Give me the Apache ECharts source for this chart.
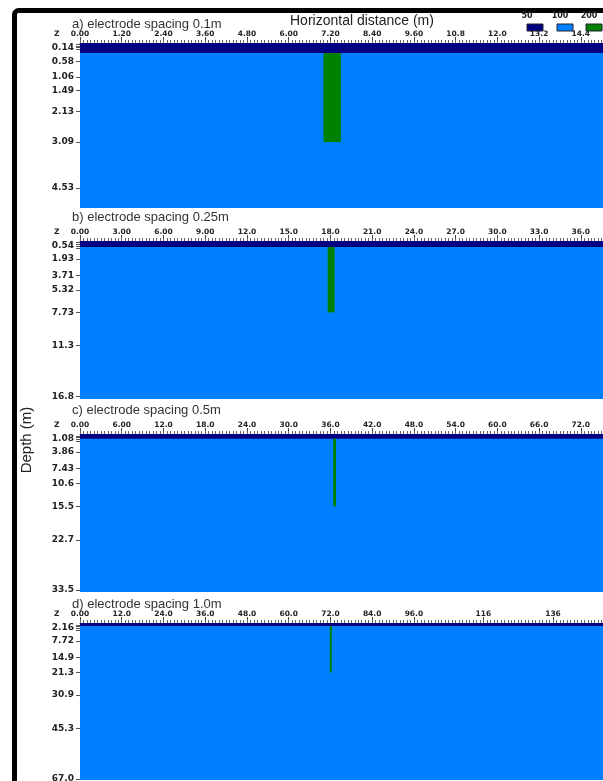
<!DOCTYPE html>
<html><head><meta charset="utf-8">
<script src="https://cdn.jsdelivr.net/npm/echarts@6/dist/echarts.min.js"></script>
<style>html,body{margin:0;padding:0;background:#fff}#c{width:603px;height:781px}</style>
</head><body><div id="c"></div>
<script>
// ---- data ----
const panelTitles = ['a) electrode spacing 0.1m','b) electrode spacing 0.25m','c) electrode spacing 0.5m','d) electrode spacing 1.0m'];
const spacings = [0.1, 0.25, 0.5, 1.0];
const xMax = [15.9, 39.75, 79.5, 159];
const depthMax = [5.15, 17.1, 33.9, 67.5];
const xTicksA = [0,1.2,2.4,3.6,4.8,6.0,7.2,8.4,9.6,10.8,12.0,13.2,14.4];
const xTicksB = [0,3,6,9,12,15,18,21,24,27,30,33,36];
const xTicksC = [0,6,12,18,24,30,36,42,48,54,60,66,72];
const xTicksD = [0,12,24,36,48,60,72,84,96,116,136];
const depthLabelsA = [0.14,0.58,1.06,1.49,2.13,3.09,4.53];
const depthLabelsB = [0.54,1.93,3.71,5.32,7.73,11.3,16.8];
const depthLabelsC = [1.08,3.86,7.43,10.6,15.5,22.7,33.5];
const depthLabelsD = [2.16,7.72,14.9,21.3,30.9,45.3,67.0];
// model cells: [x start, x end, depth top, depth bottom, legend class]
const cellsA = [[0,15.9,0,5.15,1],[0,15.9,0,0.31,0],[7.0,7.5,0.31,3.09,2]];
const cellsB = [[0,39.75,0,17.1,1],[0,39.75,0,0.65,0],[17.8,18.3,0.65,7.73,2]];
const cellsC = [[0,79.5,0,33.9,1],[0,79.5,0,1.0,0],[36.4,36.8,1.0,15.5,2]];
const cellsD = [[0,159,0,67.5,1],[0,159,0,1.3,0],[71.8,72.4,1.3,21.3,2]];
const legendValues = ['50','100','200'];
const legendColors = ['#000080','#0080ff','#008000'];

const xTicks = [xTicksA, xTicksB, xTicksC, xTicksD];
const depthLabels = [depthLabelsA, depthLabelsB, depthLabelsC, depthLabelsD];
const cells = [cellsA, cellsB, cellsC, cellsD];

// ---- layout ----
const gridTop = [43, 241, 434, 623];
const gridH = [165, 158, 158, 157];
const titleY = [26, 219, 412, 606];

function fmtX(v){ v = Math.abs(v) < 1e-9 ? 0 : v; if (v < 10) return v.toFixed(2); if (v < 100) return v.toFixed(1); return v.toFixed(0); }
function fmtY(v){ return v < 10 ? v.toFixed(2) : v.toFixed(1); }

function renderCell(params, api){
  const p0 = api.coord([api.value(0), api.value(2)]);
  const p1 = api.coord([api.value(1), api.value(3)]);
  const cs = params.coordSys;
  const r = echarts.graphic.clipRectByRect(
    {x: Math.min(p0[0],p1[0]), y: Math.min(p0[1],p1[1]), width: Math.abs(p1[0]-p0[0]), height: Math.abs(p1[1]-p0[1])},
    {x: cs.x, y: cs.y, width: cs.width, height: cs.height});
  if (!r) return;
  return {type:'rect', shape:r, style:{fill: legendColors[api.value(4)]}};
}

const labFont = {fontFamily:'DejaVu Sans', fontWeight:'bold', color:'#222'};
const grids = [], xAxes = [], yAxes = [], series = [], graphics = [];
for (let i = 0; i < 4; i++) {
  grids.push({left: 80, width: 553, top: gridTop[i], height: gridH[i], outerBoundsMode: 'none', containLabel: false});
  xAxes.push({
    type:'value', gridIndex:i, position:'top', min:0, max:xMax[i],
    axisLine:{show:true, lineStyle:{color:'#555', width:1}},
    axisTick:{show:true, customValues:xTicks[i], length:6, lineStyle:{color:'#444'}},
    axisLabel:Object.assign({customValues:xTicks[i], formatter:fmtX, fontSize:7.5, margin:5}, labFont),
    splitLine:{show:false}
  });
  xAxes.push({
    type:'value', gridIndex:i, position:'top', min:0, max:xMax[i], interval:spacings[i],
    axisLine:{show:false},
    axisTick:{show:true, length:3, lineStyle:{color:'#666'}},
    axisLabel:{show:false}, splitLine:{show:false}
  });
  const d0 = depthLabels[i][0];
  yAxes.push({
    type:'value', gridIndex:i, inverse:true, min:0, max:depthMax[i],
    axisLine:{show:false},
    axisTick:{show:true, customValues:depthLabels[i].concat([d0*0.35, d0*0.7, d0*1.4]), length:4, lineStyle:{color:'#555'}},
    axisLabel:Object.assign({customValues:depthLabels[i], formatter:fmtY, fontSize:9, margin:6}, labFont),
    splitLine:{show:false}
  });
  series.push({
    type:'custom', xAxisIndex:2*i, yAxisIndex:i, renderItem:renderCell,
    encode:{x:[0,1], y:[2,3]}, data:cells[i], silent:true, animation:false
  });
  graphics.push({type:'text', left:72, top:titleY[i]-8, style:{text:panelTitles[i], fontFamily:'Liberation Sans', fontSize:13, fill:'#333'}});
  graphics.push({type:'text', left:54, top:gridTop[i]-13, style:{text:'Z', fontFamily:'DejaVu Sans', fontWeight:'bold', fontSize:7.5, fill:'#222'}});
}
// frame
graphics.push({type:'rect', z:-10, shape:{x:14.5, y:10.5, width:1000, height:1000, r:4}, style:{fill:null, stroke:'#000', lineWidth:5}});
graphics.push({type:'text', left:290, top:14, style:{text:'Horizontal distance (m)', fontFamily:'Liberation Sans', fontSize:14, fill:'#222'}});
graphics.push({type:'text', x:27, y:440, rotation:Math.PI/2, style:{text:'Depth (m)', fontFamily:'Liberation Sans', fontSize:15, fill:'#222', align:'center', verticalAlign:'middle'}});
// legend
const legX = [527, 557, 586];
const legLabX = [527, 560, 589];
for (let k = 0; k < 3; k++) {
  graphics.push({type:'rect', z:100, shape:{x:legX[k], y:24, width:16, height:7}, style:{fill:legendColors[k], stroke:'#223', lineWidth:1}});
  graphics.push({type:'text', z:100, x:legLabX[k], y:16, style:{text:legendValues[k], fontFamily:'DejaVu Sans', fontWeight:'bold', fontSize:8, fill:'#222', align:'center', verticalAlign:'middle'}});
}

const chart = echarts.init(document.getElementById('c'), null, {renderer:'canvas'});
chart.setOption({
  backgroundColor:'#fff', animation:false,
  grid:grids, xAxis:xAxes, yAxis:yAxes, series:series, graphic:graphics
});
</script></body></html>
